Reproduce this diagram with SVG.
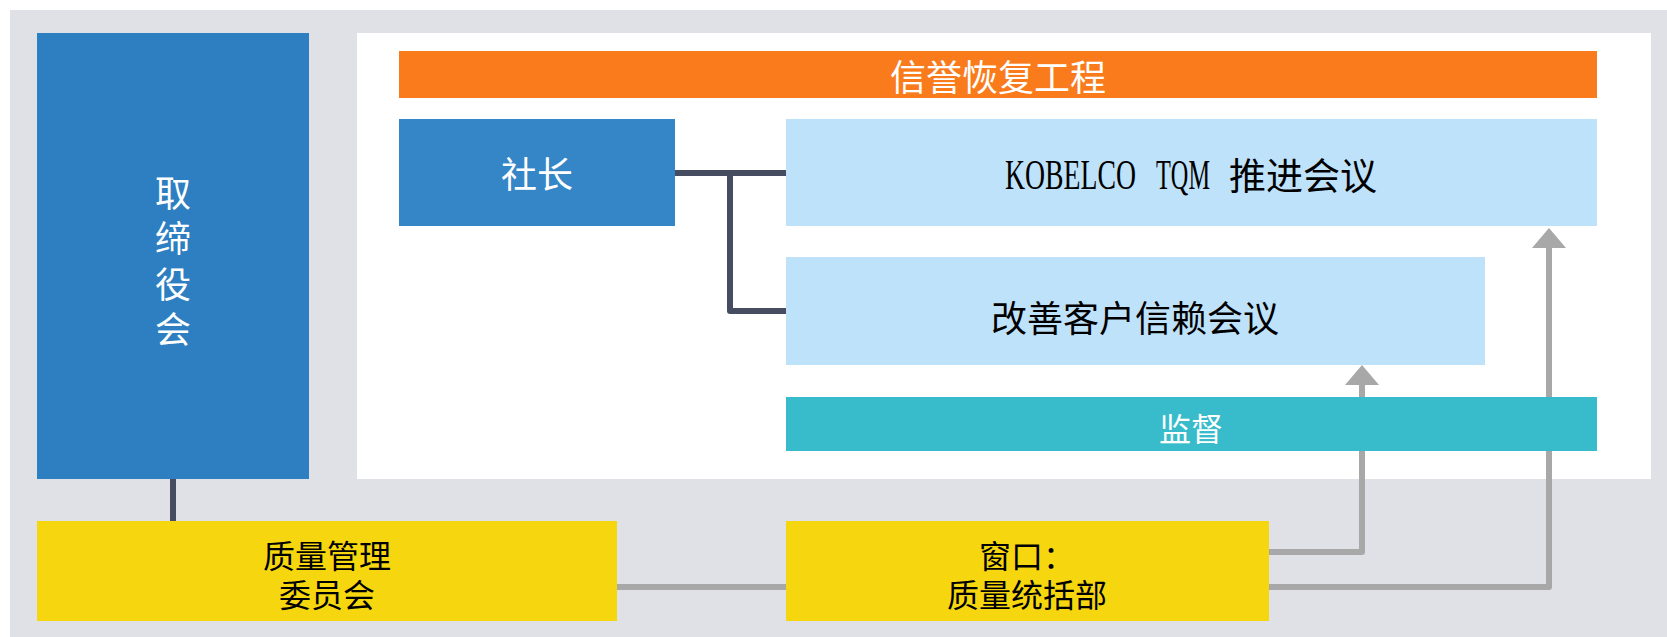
<svg xmlns="http://www.w3.org/2000/svg" width="1667" height="637" viewBox="0 0 1667 637">
<style>
.t{font-family:"Noto Sans CJK SC","Liberation Sans",sans-serif;text-anchor:middle;dominant-baseline:central}
.w{fill:#ffffff}
.k{fill:#000000}
.dark{fill:none;stroke:#474D61;stroke-width:6;stroke-linejoin:round}
.gray{fill:none;stroke:#A8A8A8;stroke-width:6;stroke-linejoin:round}
</style>
<defs>
<marker id="arr" markerUnits="userSpaceOnUse" markerWidth="20" markerHeight="34" viewBox="0 0 20 34" refX="0" refY="17" orient="auto">
<path d="M0,0 L20,17 L0,34 Z" fill="#A8A8A8"/>
</marker>
</defs>
<rect x="10" y="10" width="1657" height="627" fill="#E0E1E6"/>
<rect id="panel" x="357" y="33" width="1294" height="446" fill="#ffffff"/>
<g id="connectors">
<path class="dark" d="M675,173 H786"/>
<path class="dark" d="M730,173 V311 H786"/>
<path class="dark" d="M173,479 V521"/>
<path class="gray" d="M617,587 H786"/>
<path class="gray" d="M1269,552 H1362 V385" marker-end="url(#arr)"/>
<path class="gray" d="M1269,587 H1549 V248" marker-end="url(#arr)"/>
</g>
<g id="board">
<rect x="37" y="33" width="272" height="446" fill="#2E7FC1"/>
<text class="t w" font-size="36"><tspan x="173" y="191">取</tspan><tspan x="173" y="236">缔</tspan><tspan x="173" y="282">役</tspan><tspan x="173" y="327">会</tspan></text>
</g>
<g id="project">
<rect x="399" y="51" width="1198" height="47" fill="#F97B1C"/>
<text class="t w" font-size="36" x="998" y="75">信誉恢复工程</text>
</g>
<g id="president">
<rect x="399" y="119" width="276" height="107" fill="#3586C6"/>
<text class="t w" font-size="36" x="537" y="172">社长</text>
</g>
<g id="tqm">
<rect x="786" y="119" width="811" height="107" fill="#BFE2FB"/>
<text class="k" y="189" font-family="Liberation Serif, serif" font-size="42"><tspan x="1005" textLength="131" lengthAdjust="spacingAndGlyphs">KOBELCO</tspan><tspan x="1156" textLength="54" lengthAdjust="spacingAndGlyphs">TQM</tspan><tspan x="1229" y="174" font-family="Noto Sans CJK SC, sans-serif" font-size="37" dominant-baseline="central">推进会议</tspan></text>
</g>
<g id="trust">
<rect x="786" y="257" width="699" height="108" fill="#BFE2FB"/>
<text class="t k" font-size="36" x="1135" y="316">改善客户信赖会议</text>
</g>
<g id="supervise">
<rect x="786" y="397" width="811" height="54" fill="#38BBCA"/>
<text class="t w" font-size="32" x="1191" y="427">监督</text>
</g>
<g id="qmc">
<rect x="37" y="521" width="580" height="100" fill="#F6D70F"/>
<text class="t k" font-size="32"><tspan x="327" y="554">质量管理</tspan><tspan x="327" y="593">委员会</tspan></text>
</g>
<g id="qdept">
<rect x="786" y="521" width="483" height="100" fill="#F6D70F"/>
<text class="t k" font-size="32"><tspan x="1027" y="554">窗口：</tspan><tspan x="1027" y="593">质量统括部</tspan></text>
</g>
</svg>
